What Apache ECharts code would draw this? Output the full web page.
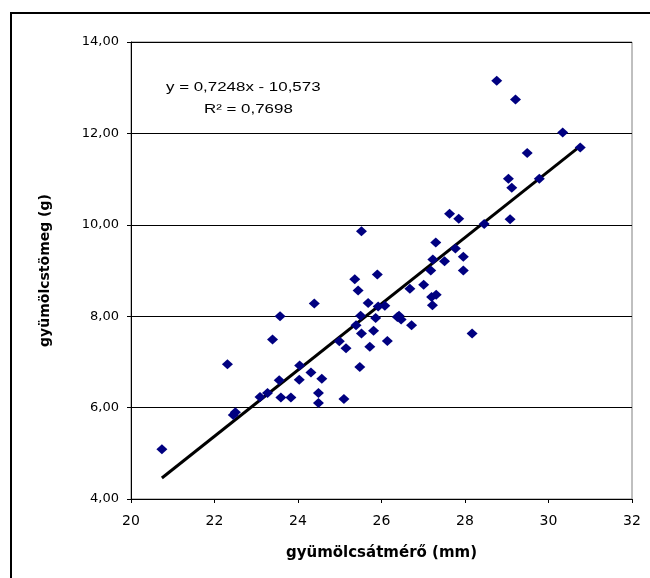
<!DOCTYPE html>
<html>
<head>
<meta charset="utf-8">
<script src="https://cdn.jsdelivr.net/npm/echarts@6/dist/echarts.min.js"></script>
<style>
  html, body { margin: 0; padding: 0; background: #fff; }
  #chart { width: 650px; height: 578px; }
</style>
</head>
<body>
<div id="chart"></div>
<script>
// átmérő (mm) / tömeg (g)
const diameter = [
  20.74, 22.31, 22.45, 22.50, 23.09, 23.27, 23.39, 23.57, 23.55, 23.59,
  23.83, 24.04, 24.03, 24.31, 24.39, 24.57, 24.49, 24.49, 25.10, 24.99,
  25.15, 25.48, 25.39, 25.52, 25.50, 25.72, 25.81, 25.86, 25.68, 25.92,
  26.08, 26.14, 25.36, 25.44, 25.90, 25.52, 26.42, 26.47, 26.38, 26.72,
  26.68, 27.01, 27.22, 27.20, 27.31, 27.18, 27.23, 27.30, 27.51, 27.77,
  27.96, 27.96, 27.63, 27.85, 28.17, 28.76, 29.21, 30.34, 30.76, 29.49,
  29.04, 29.12, 29.78, 29.08, 28.46
]
const weight = [
  5.09, 6.95, 5.84, 5.90, 6.23, 6.32, 7.49, 8.00, 6.60, 6.22,
  6.22, 6.92, 6.61, 6.77, 8.28, 6.63, 6.32, 6.10, 6.19, 7.45,
  7.30, 6.89, 7.80, 7.62, 8.01, 7.33, 7.68, 7.96, 8.29, 8.21,
  8.23, 7.46, 8.81, 8.56, 8.91, 9.86, 8.01, 7.93, 7.98, 7.80,
  8.60, 8.69, 8.24, 8.42, 8.47, 9.00, 9.24, 9.61, 9.20, 9.48,
  9.30, 9.00, 10.24, 10.13, 7.62, 13.15, 12.74, 12.02, 11.69, 11.57,
  11.01, 10.81, 11.01, 10.12, 10.02
]
const slope = 0.7248
const intercept = -10.573
const equationText = 'y = 0,7248x - 10,573'
const r2Text = 'R² = 0,7698'
const xTitle = 'gyümölcsátmérő (mm)'
const yTitle = 'gyümölcstömeg (g)'

const points = diameter.map((d, i) => [d, weight[i]])
const xMin = Math.min(...diameter)
const xMax = Math.max(...diameter)
const trend = [xMin, xMax].map(x => [x, slope * x + intercept])

const chart = echarts.init(document.getElementById('chart'))
chart.setOption({
  animation: false,
  textStyle: { fontFamily: 'Liberation Sans, Arial, sans-serif' },
  grid: {
    left: 131, right: 18, top: 42, bottom: 79,
    show: true, borderColor: '#808080', borderWidth: 1
  },
  xAxis: {
    type: 'value',
    min: 20, max: 32, interval: 2,
    name: xTitle,
    nameLocation: 'middle',
    nameGap: 47,
    nameTextStyle: { fontFamily: 'DejaVu Sans', fontWeight: 'bold', fontSize: 15, color: '#000' },
    axisLine: { lineStyle: { color: '#000', width: 1 } },
    axisTick: { show: true, inside: false, length: 4, lineStyle: { color: '#000' } },
    axisLabel: { fontFamily: 'DejaVu Sans', fontSize: 14, color: '#000', margin: 15 },
    splitLine: { show: false }
  },
  yAxis: {
    type: 'value',
    min: 4, max: 14, interval: 2,
    name: yTitle,
    nameLocation: 'middle',
    nameGap: 79,
    nameTextStyle: { fontFamily: 'DejaVu Sans', fontWeight: 'bold', fontSize: 14, color: '#000' },
    axisLine: { show: true, lineStyle: { color: '#000', width: 1 } },
    axisTick: { show: true, inside: false, length: 4, lineStyle: { color: '#000' } },
    axisLabel: {
      fontFamily: 'DejaVu Sans', fontSize: 13, color: '#000', margin: 12,
      formatter: v => v.toFixed(2).replace('.', ',')
    },
    splitLine: { show: true, lineStyle: { color: '#000', width: 1 } }
  },
  series: [
    {
      type: 'scatter',
      data: points,
      symbol: 'diamond',
      symbolSize: [11, 10],
      itemStyle: { color: '#000080', opacity: 1 },
      z: 3
    },
    {
      type: 'line',
      data: trend,
      symbol: 'none',
      lineStyle: { color: '#000', width: 3 },
      z: 2
    }
  ],
  graphic: [
    {
      type: 'rect',
      shape: { x: 11, y: 13, width: 700, height: 700 },
      style: { fill: null, stroke: '#000', lineWidth: 2 },
      silent: true
    },
    {
      type: 'text', x: 166, y: 81, scaleX: 1.3,
      style: { text: equationText, font: '13px "Liberation Sans", Arial, sans-serif', fill: '#000' }
    },
    {
      type: 'text', x: 204, y: 103, scaleX: 1.3,
      style: { text: r2Text, font: '13px "Liberation Sans", Arial, sans-serif', fill: '#000' }
    }
  ]
})
</script>
</body>
</html>
